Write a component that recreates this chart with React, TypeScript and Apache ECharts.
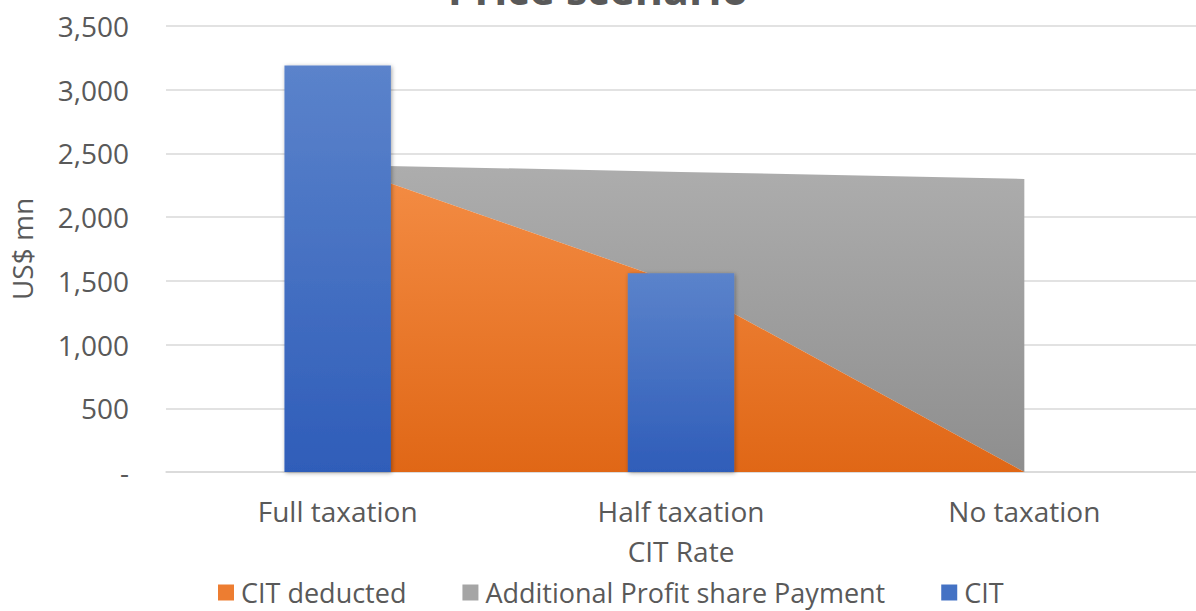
import React, { useEffect, useRef } from "react";
import * as echarts from "echarts";

const title = "Price scenario";
const categories = ["Full taxation", "Half taxation", "No taxation"];
const citDeducted = [2410, 1470, 0];
const additionalProfitShare = [0, 885, 2300];
const cit = [3190, 1560, null];
const yTicks = { min: 0, max: 3500, interval: 500 };

const FONT = "'Open Sans', 'Noto Sans', sans-serif";
const TXT = "#595959";

export default function App() {
  const ref = useRef<HTMLDivElement>(null);
  useEffect(() => {
    if (!ref.current) return;
    const chart = echarts.init(ref.current, null, { renderer: "svg" });
    const grad = (a: string, b: string) =>
      new echarts.graphic.LinearGradient(0, 0, 0, 1, [
        { offset: 0, color: a },
        { offset: 1, color: b },
      ]);
    chart.setOption({
      animation: false,
      backgroundColor: "#ffffff",
      textStyle: { fontFamily: FONT },
      title: {
        text: title,
        left: "center",
        top: -38,
        textStyle: { fontSize: 43, fontWeight: "bold", color: TXT, fontFamily: FONT },
      },
      grid: { left: 166, right: -7, top: 26, bottom: 139, containLabel: false },
      legend: {
        left: 213,
        top: 574,
        itemWidth: 16,
        itemHeight: 16,
        itemGap: 56,
        icon: "rect",
        textStyle: {
          fontSize: 27,
          lineHeight: 27,
          color: TXT,
          fontFamily: FONT,
          padding: [0, 0, 0, 2],
        },
        data: [
          { name: "CIT deducted", itemStyle: { color: "#ED7D31" } },
          { name: "Additional Profit share Payment", itemStyle: { color: "#A5A5A5" } },
          { name: "CIT", itemStyle: { color: "#4472C4" } },
        ],
      },
      xAxis: {
        type: "category",
        data: categories,
        boundaryGap: true,
        name: "CIT Rate",
        nameLocation: "middle",
        nameGap: 65,
        nameTextStyle: { fontSize: 28, lineHeight: 28, color: TXT, fontFamily: FONT },
        axisLine: { show: true, lineStyle: { color: "#D9D9D9", width: 1.5 } },
        axisTick: { show: false },
        axisLabel: { fontSize: 28, color: TXT, fontFamily: FONT, margin: 25 },
      },
      yAxis: {
        type: "value",
        min: yTicks.min,
        max: yTicks.max,
        interval: yTicks.interval,
        name: "US$ mn",
        nameLocation: "middle",
        nameGap: 130,
        nameTextStyle: { fontSize: 28, color: TXT, fontFamily: FONT },
        axisLine: { show: false },
        axisTick: { show: false },
        splitLine: { lineStyle: { color: "#D9D9D9", width: 1.5 } },
        axisLabel: {
          fontSize: 28,
          color: TXT,
          fontFamily: FONT,
          margin: 37,
          formatter: (v: number) => (v === 0 ? "-" : v.toLocaleString("en-US")),
        },
      },
      series: [
        {
          name: "CIT deducted",
          type: "line",
          stack: "total",
          data: citDeducted,
          symbol: "none",
          lineStyle: { width: 0 },
          areaStyle: { color: grad("#F48D45", "#E06716"), opacity: 1 },
          itemStyle: { color: "#ED7D31" },
          z: 2,
        },
        {
          name: "Additional Profit share Payment",
          type: "line",
          stack: "total",
          data: additionalProfitShare,
          symbol: "none",
          lineStyle: { width: 0 },
          areaStyle: { color: grad("#ADADAD", "#8E8E8E"), opacity: 1 },
          itemStyle: { color: "#A5A5A5" },
          z: 1,
        },
        {
          name: "CIT",
          type: "bar",
          data: cit,
          barWidth: "31%",
          itemStyle: {
            color: grad("#5B83CB", "#2F5DB9"),
            shadowBlur: 4,
            shadowColor: "rgba(0,0,0,0.35)",
            shadowOffsetX: 1,
            shadowOffsetY: 1,
          },
          z: 3,
        },
      ],
    });
    return () => chart.dispose();
  }, []);
  return (
    <div
      ref={ref}
      style={{ position: "absolute", left: 0, top: 0, width: 1196, height: 611 }}
    />
  );
}
